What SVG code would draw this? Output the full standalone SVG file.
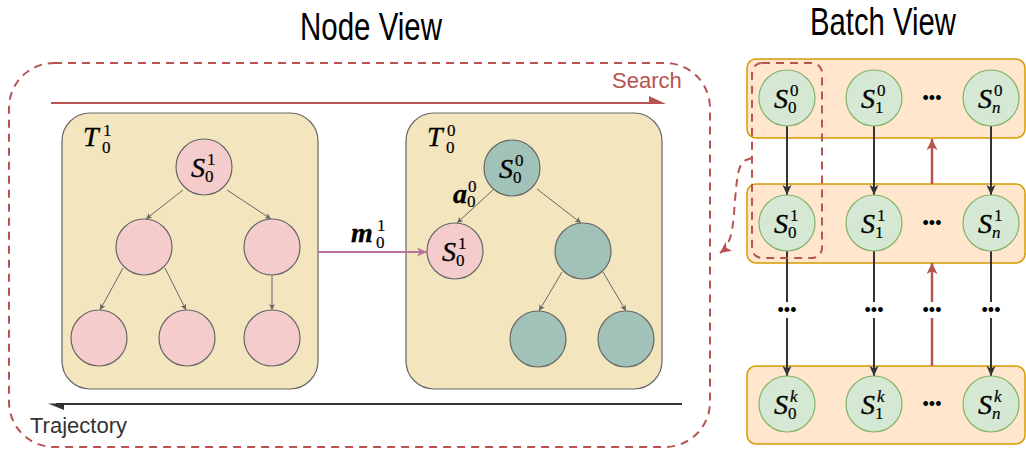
<svg xmlns="http://www.w3.org/2000/svg" width="1026" height="453" viewBox="0 0 1026 453">
<style>
.title{font-family:"Liberation Sans",Arial,sans-serif;font-size:39px;fill:#000}
.lbl{font-family:"Liberation Sans",Arial,sans-serif;font-size:22px}
.S{font-family:"Liberation Serif","Times New Roman",serif;font-style:italic;font-size:28px;fill:#000;stroke:#000;stroke-width:0.35}
.d{font-family:"Liberation Serif","Times New Roman",serif;font-size:17px;fill:#000;stroke:#000;stroke-width:0.2}
.di{font-family:"Liberation Serif","Times New Roman",serif;font-style:italic;font-size:17px;fill:#000;stroke:#000;stroke-width:0.2}
.dots{font-family:"Liberation Sans",Arial,sans-serif;font-size:18px;fill:#000;text-anchor:middle}
.tbox{fill:#f3e6bf;stroke:#666;stroke-width:1.2}
.pink{fill:#f4cccc;stroke:#666;stroke-width:1.2}
.teal{fill:#a0c2b9;stroke:#666;stroke-width:1.2}
.row{fill:#ffe6cc;stroke:#d79b00;stroke-width:1.5}
.green{fill:#d5e8d4;stroke:#82b366;stroke-width:1.2}
.tedge{fill:none;stroke:#666;stroke-width:1}
.bedge{fill:none;stroke:#333;stroke-width:2}
.redge{fill:none;stroke:#b85450;stroke-width:2.5}
.dash{fill:none;stroke:#b85450;stroke-width:2;stroke-dasharray:8 6}
</style>
<defs>
<marker id="tA" markerUnits="userSpaceOnUse" markerWidth="8" markerHeight="8" refX="6" refY="3" orient="auto"><path d="M0,0 L6,3 L0,6 L1.5,3 z" fill="#666"/></marker>
<marker id="bA" markerUnits="userSpaceOnUse" markerWidth="12" markerHeight="12" refX="10" refY="4.5" orient="auto"><path d="M0,0 L10,4.5 L0,9 L2.5,4.5 z" fill="#333"/></marker>
<marker id="rA" markerUnits="userSpaceOnUse" markerWidth="14" markerHeight="14" refX="11" refY="5.5" orient="auto"><path d="M0,0 L11,5.5 L0,11 L2.8,5.5 z" fill="#b85450"/></marker>
<marker id="pA" markerUnits="userSpaceOnUse" markerWidth="12" markerHeight="12" refX="10" refY="4.5" orient="auto"><path d="M0,0 L10,4.5 L0,9 L2.5,4.5 z" fill="#b5739d"/></marker>
</defs>
<rect width="1026" height="453" fill="#fff"/>

<text class="title" x="300" y="40" textLength="142" lengthAdjust="spacingAndGlyphs">Node View</text>
<text class="title" x="810" y="35" textLength="146" lengthAdjust="spacingAndGlyphs">Batch View</text>

<g id="node-view-frame">
<rect class="dash" x="9" y="63" width="701" height="384" rx="45" ry="45"/>
</g>

<g id="search">
<line x1="51" y1="103" x2="652" y2="103" stroke="#b85450" stroke-width="2"/>
<polygon points="666,104 649,96 649,104" fill="#b85450"/>
<text class="lbl" x="612" y="88" fill="#b85450">Search</text>
</g>
<g id="trajectory">
<line x1="682" y1="404" x2="56" y2="404" stroke="#333" stroke-width="2"/>
<polygon points="48,403.5 64,403.5 64,410" fill="#333"/>
<text class="lbl" x="30" y="433" fill="#333">Trajectory</text>
</g>

<g id="tree-T01">
<rect class="tbox" x="62" y="113" width="256" height="276" rx="28" ry="28"/>
<text class="S" x="83" y="146" font-size="31">T</text>
<text class="d" x="103" y="136" font-size="19">1</text>
<text class="d" x="102" y="153" font-size="19">0</text>
</g>
<g id="tree-T00">
<rect class="tbox" x="406" y="113" width="256" height="276" rx="28" ry="28"/>
<text class="S" x="427" y="146" font-size="31">T</text>
<text class="d" x="447" y="136" font-size="19">0</text>
<text class="d" x="446" y="153" font-size="19">0</text>
</g>

<g id="tree-edges">
<line class="tedge" x1="183" y1="190" x2="146" y2="219" marker-end="url(#tA)"/>
<line class="tedge" x1="227" y1="190" x2="271" y2="219" marker-end="url(#tA)"/>
<line class="tedge" x1="123" y1="268" x2="100" y2="310" marker-end="url(#tA)"/>
<line class="tedge" x1="165" y1="268" x2="186" y2="310" marker-end="url(#tA)"/>
<line class="tedge" x1="272" y1="275" x2="272" y2="310" marker-end="url(#tA)"/>
<line class="tedge" x1="494" y1="189" x2="457" y2="223" marker-end="url(#tA)"/>
<line class="tedge" x1="537" y1="189" x2="581" y2="223" marker-end="url(#tA)"/>
<line class="tedge" x1="562" y1="272" x2="539" y2="311" marker-end="url(#tA)"/>
<line class="tedge" x1="603" y1="272" x2="626" y2="311" marker-end="url(#tA)"/>
</g>

<g id="L-root"><circle class="pink" cx="204" cy="167" r="28"/>
<text class="S" x="205" y="177" text-anchor="end">S</text><text class="d" x="207" y="165">1</text><text class="d" x="205" y="182">0</text></g>
<g id="L-c1"><circle class="pink" cx="144" cy="247" r="28"/></g>
<g id="L-c2"><circle class="pink" cx="272" cy="247" r="28"/></g>
<g id="L-l1"><circle class="pink" cx="99" cy="338" r="28"/></g>
<g id="L-l2"><circle class="pink" cx="187" cy="338" r="28"/></g>
<g id="L-l3"><circle class="pink" cx="272" cy="338" r="28"/></g>

<g id="R-root"><circle class="teal" cx="512" cy="168" r="28"/>
<text class="S" x="513" y="178" text-anchor="end">S</text><text class="d" x="515" y="166">0</text><text class="d" x="513" y="183">0</text></g>
<g id="R-c1"><circle class="pink" cx="455" cy="251" r="28"/>
<text class="S" x="456" y="261" text-anchor="end">S</text><text class="d" x="458" y="249">1</text><text class="d" x="456" y="266">0</text></g>
<g id="R-c2"><circle class="teal" cx="583" cy="251" r="28"/></g>
<g id="R-l1"><circle class="teal" cx="538" cy="339" r="28"/></g>
<g id="R-l2"><circle class="teal" cx="626" cy="339" r="28"/></g>

<g id="label-a00">
<text class="S" x="453" y="203" font-size="22" font-weight="bold" stroke-width="0">a</text>
<text class="d" x="468" y="192" font-size="14">0</text>
<text class="d" x="467" y="207" font-size="14">0</text>
</g>

<g id="edge-m01">
<line x1="318" y1="252" x2="427" y2="252" stroke="#b5739d" stroke-width="2" marker-end="url(#pA)"/>
<text class="S" x="351" y="242" font-size="27" font-weight="bold" stroke-width="0">m</text>
<text class="d" x="377" y="231" font-size="16">1</text>
<text class="d" x="376" y="248" font-size="16">0</text>
</g>

<g id="batch-rows">
<rect class="row" x="747" y="59" width="278" height="79" rx="9" ry="9"/>
<rect class="row" x="747" y="184" width="278" height="79" rx="9" ry="9"/>
<rect class="row" x="747" y="366" width="278" height="78" rx="9" ry="9"/>
</g>

<g id="batch-edges">
<line class="bedge" x1="787" y1="126" x2="787" y2="195" marker-end="url(#bA)"/>
<line class="bedge" x1="874" y1="126" x2="874" y2="195" marker-end="url(#bA)"/>
<line class="bedge" x1="991" y1="126" x2="991" y2="195" marker-end="url(#bA)"/>
<line class="bedge" x1="787" y1="251" x2="787" y2="376" marker-end="url(#bA)"/>
<line class="bedge" x1="874" y1="251" x2="874" y2="376" marker-end="url(#bA)"/>
<line class="bedge" x1="991" y1="251" x2="991" y2="376" marker-end="url(#bA)"/>
<line class="redge" x1="932" y1="184" x2="932" y2="139" marker-end="url(#rA)"/>
<line class="redge" x1="932" y1="366" x2="932" y2="263" marker-end="url(#rA)"/>
<g fill="#fff">
<rect x="776" y="302" width="22" height="16"/>
<rect x="863" y="302" width="22" height="16"/>
<rect x="921" y="302" width="22" height="16"/>
<rect x="980" y="302" width="22" height="16"/>
</g>
<text class="dots" x="787" y="316">•••</text>
<text class="dots" x="874" y="316">•••</text>
<text class="dots" x="932" y="316">•••</text>
<text class="dots" x="991" y="316">•••</text>
</g>

<g id="B-00"><circle class="green" cx="787" cy="98" r="28"/><text class="S" x="788" y="108" text-anchor="end">S</text><text class="d" x="790" y="96">0</text><text class="d" x="788" y="113">0</text></g>
<g id="B-01"><circle class="green" cx="874" cy="98" r="28"/><text class="S" x="875" y="108" text-anchor="end">S</text><text class="d" x="877" y="96">0</text><text class="d" x="875" y="113">1</text></g>
<g id="B-0n"><circle class="green" cx="991" cy="98" r="28"/><text class="S" x="992" y="108" text-anchor="end">S</text><text class="d" x="994" y="96">0</text><text class="di" x="992" y="113">n</text></g>
<text class="dots" x="932" y="104">•••</text>

<g id="B-10"><circle class="green" cx="787" cy="223" r="28"/><text class="S" x="788" y="233" text-anchor="end">S</text><text class="d" x="790" y="221">1</text><text class="d" x="788" y="238">0</text></g>
<g id="B-11"><circle class="green" cx="874" cy="223" r="28"/><text class="S" x="875" y="233" text-anchor="end">S</text><text class="d" x="877" y="221">1</text><text class="d" x="875" y="238">1</text></g>
<g id="B-1n"><circle class="green" cx="991" cy="223" r="28"/><text class="S" x="992" y="233" text-anchor="end">S</text><text class="d" x="994" y="221">1</text><text class="di" x="992" y="238">n</text></g>
<text class="dots" x="932" y="229">•••</text>

<g id="B-k0"><circle class="green" cx="787" cy="404" r="28"/><text class="S" x="788" y="414" text-anchor="end">S</text><text class="di" x="790" y="402">k</text><text class="d" x="788" y="419">0</text></g>
<g id="B-k1"><circle class="green" cx="874" cy="404" r="28"/><text class="S" x="875" y="414" text-anchor="end">S</text><text class="di" x="877" y="402">k</text><text class="d" x="875" y="419">1</text></g>
<g id="B-kn"><circle class="green" cx="991" cy="404" r="28"/><text class="S" x="992" y="414" text-anchor="end">S</text><text class="di" x="994" y="402">k</text><text class="di" x="992" y="419">n</text></g>
<text class="dots" x="932" y="410">•••</text>

<g id="batch-selection">
<rect class="dash" x="752" y="63" width="70" height="195" rx="10" ry="10"/>
</g>
<g id="selection-link">
<path class="dash" d="M752,158 L746,160 C738,163 737,178 735,200 C733,228 732,244 720,253" marker-end="url(#rA)"/>
</g>
</svg>
